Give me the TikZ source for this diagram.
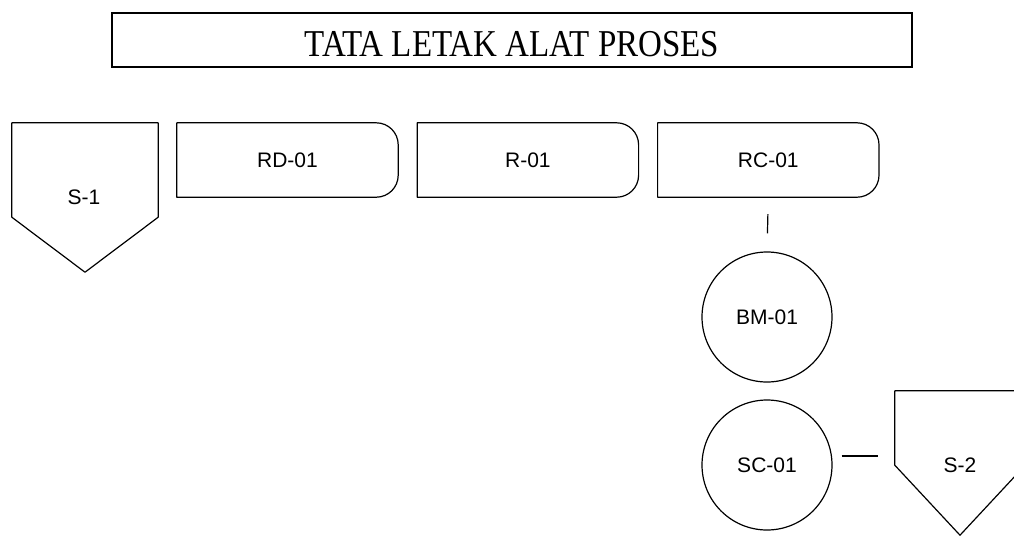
\documentclass[tikz,border=0pt]{standalone}
\usepackage{fontspec}
\setmainfont{Liberation Serif}
\setsansfont{Liberation Sans}
\usepackage{tikz}
\usetikzlibrary{positioning}

\tikzset{
	judulbox/.style={draw,line width=1.2pt,minimum width=800pt,minimum height=54pt,
		text height=33pt,text depth=0pt,font=\fontsize{33}{38}\selectfont},
	alat/.style={line width=1.2pt,line join=round},
	teks/.style={font=\sffamily\fontsize{21}{25}\selectfont}
}

\begin{document}
\begin{tikzpicture}[x=1pt,y=-1pt]
		\useasboundingbox (0,0) rectangle (1014,536);
		\node[judulbox] (judul) at (512,40) {\scalebox{1}[1.15]{TATA LETAK ALAT PROSES}};
		
		\begin{scope}[every node/.style={teks,minimum width=221pt,minimum height=74pt}]
			\node (rd) at (287.5,160) {RD-01};
			\node (r) [right=19pt of rd] {R-01};
			\node (rc) [right=19pt of r] {RC-01};
		\end{scope}
		
		% unit dengan ujung kanan membulat
		\foreach \u in {rd,r,rc}
			\draw[alat] (\u.south west) -- (\u.north west)
				-- ([xshift=-22pt]\u.north east) arc[start angle=90,end angle=0,radius=22pt]
				-- ([yshift=22pt]\u.south east) arc[start angle=0,end angle=-90,radius=22pt]
				-- cycle;
		
		% silo
		\node[minimum width=146pt,minimum height=94pt] (s1) at (85,170) {};
		\node[teks] (s1teks) at (84,197) {S-1};
		\draw[alat] (s1.south west) -- (s1.north west) -- (s1.north east)
			-- (s1.south east) -- ([yshift=-55pt]s1.south) -- cycle;
		
		\node[minimum width=130pt,minimum height=74pt] (s2) at (960,428) {};
		\node[teks] (s2teks) at (960,465) {S-2};
		\draw[alat] (s2.south west) -- (s2.north west) -- (s2.north east)
			-- (s2.south east) -- ([yshift=-70pt]s2.south) -- cycle;
		
		\begin{scope}[every node/.style={teks,circle,draw,line width=1.2pt,minimum size=130pt}]
			\node (bm) at (767,317) {BM-01};
			\node (sc) at (767,465) {SC-01};
		\end{scope}
		
		\draw[alat,shorten <=17pt,shorten >=18pt] (rc.south) -- (bm.north);
		\draw[alat,shorten <=9pt,shorten >=17pt] ([yshift=9pt]sc.east) -- ([yshift=9pt]sc.east -| s2.west);
	\end{tikzpicture}
\end{document}
